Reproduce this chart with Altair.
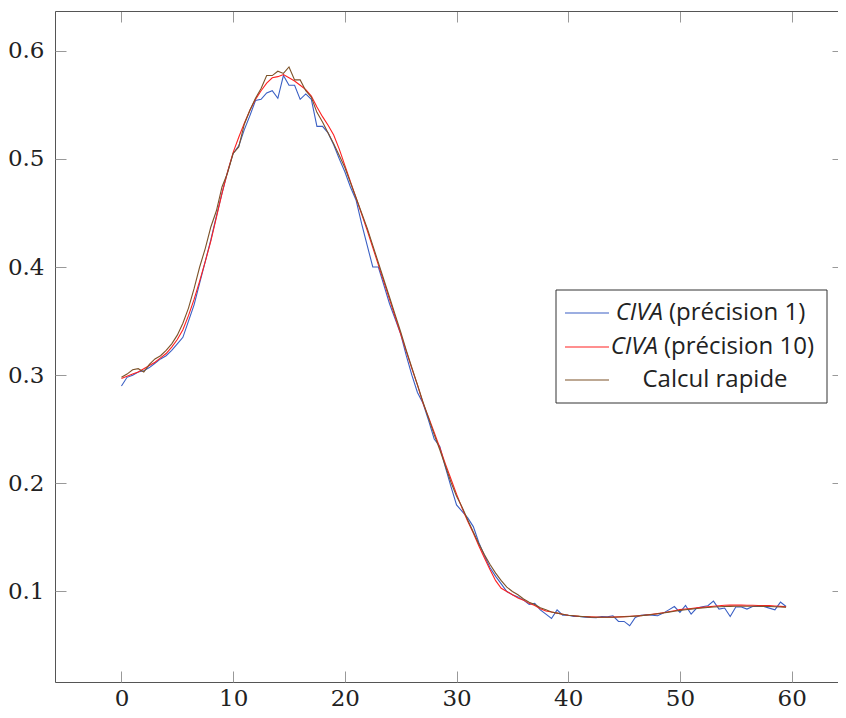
import altair as alt
import pandas as pd

# ---------------- data ----------------
X = [0.0, 0.5, 1.0, 1.5, 2.0, 2.5, 3.0, 3.5, 4.0, 4.5,
     5.0, 5.5, 6.0, 6.5, 7.0, 7.5, 8.0, 8.5, 9.0, 9.5,
     10.0, 10.5, 11.0, 11.5, 12.0, 12.5, 13.0, 13.5, 14.0, 14.5,
     15.0, 15.5, 16.0, 16.5, 17.0, 17.5, 18.0, 18.5, 19.0, 19.5,
     20.0, 20.5, 21.0, 21.5, 22.0, 22.5, 23.0, 23.5, 24.0, 24.5,
     25.0, 25.5, 26.0, 26.5, 27.0, 27.5, 28.0, 28.5, 29.0, 29.5,
     30.0, 30.5, 31.0, 31.5, 32.0, 32.5, 33.0, 33.5, 34.0, 34.5,
     35.0, 35.5, 36.0, 36.5, 37.0, 37.5, 38.0, 38.5, 39.0, 39.5,
     40.0, 40.5, 41.0, 41.5, 42.0, 42.5, 43.0, 43.5, 44.0, 44.5,
     45.0, 45.5, 46.0, 46.5, 47.0, 47.5, 48.0, 48.5, 49.0, 49.5,
     50.0, 50.5, 51.0, 51.5, 52.0, 52.5, 53.0, 53.5, 54.0, 54.5,
     55.0, 55.5, 56.0, 56.5, 57.0, 57.5, 58.0, 58.5, 59.0, 59.5]

CIVA_P1 = [0.290, 0.298, 0.300, 0.303, 0.304, 0.307, 0.311, 0.315, 0.318, 0.323,
           0.329, 0.335, 0.350, 0.365, 0.385, 0.405, 0.425, 0.447, 0.468, 0.488,
           0.505, 0.512, 0.527, 0.540, 0.554, 0.555, 0.561, 0.563, 0.556, 0.577,
           0.568, 0.568, 0.555, 0.560, 0.555, 0.530, 0.530, 0.524, 0.513, 0.500,
           0.488, 0.474, 0.462, 0.440, 0.420, 0.400, 0.400, 0.383, 0.366, 0.352,
           0.338, 0.318, 0.300, 0.284, 0.274, 0.258, 0.241, 0.234, 0.215, 0.197,
           0.180, 0.174, 0.168, 0.160, 0.145, 0.133, 0.122, 0.114, 0.107, 0.100,
           0.097, 0.095, 0.092, 0.088, 0.089, 0.083, 0.079, 0.075, 0.083, 0.078,
           0.078, 0.0770, 0.0768, 0.0763, 0.0760, 0.0758, 0.0768, 0.0765, 0.0775, 0.0723,
           0.0723, 0.0683, 0.0760, 0.0780, 0.0785, 0.0780, 0.0775, 0.0800, 0.0830, 0.0861,
           0.0806, 0.0871, 0.0791, 0.0847, 0.0858, 0.0868, 0.0911, 0.0837, 0.0847, 0.0769,
           0.0856, 0.0856, 0.0837, 0.0861, 0.0861, 0.0861, 0.0846, 0.0831, 0.0902, 0.0861]

CIVA_P10 = [0.297, 0.299, 0.301, 0.303, 0.306, 0.309, 0.312, 0.316, 0.320, 0.326,
            0.333, 0.342, 0.355, 0.370, 0.387, 0.405, 0.424, 0.446, 0.468, 0.488,
            0.506, 0.520, 0.533, 0.545, 0.555, 0.563, 0.570, 0.575, 0.576, 0.578,
            0.575, 0.572, 0.568, 0.564, 0.558, 0.548, 0.539, 0.531, 0.522, 0.509,
            0.494, 0.479, 0.464, 0.449, 0.434, 0.418, 0.402, 0.386, 0.370, 0.354,
            0.338, 0.322, 0.306, 0.291, 0.274, 0.261, 0.247, 0.233, 0.218, 0.204,
            0.190, 0.177, 0.165, 0.154, 0.142, 0.131, 0.120, 0.110, 0.103, 0.100,
            0.097, 0.094, 0.092, 0.089, 0.087, 0.084, 0.082, 0.081, 0.080, 0.079,
            0.0780, 0.0775, 0.0770, 0.0768, 0.0765, 0.0763, 0.0762, 0.0762, 0.0763, 0.0765,
            0.0767, 0.0770, 0.0773, 0.0777, 0.0782, 0.0788, 0.0795, 0.0803, 0.0812, 0.0822,
            0.0832, 0.0838, 0.0843, 0.0848, 0.0853, 0.0858, 0.0863, 0.0868, 0.0872, 0.0874,
            0.0875, 0.0874, 0.0873, 0.0872, 0.0871, 0.0870, 0.0869, 0.0866, 0.0862, 0.0858]

CALCUL_RAPIDE = [0.298, 0.301, 0.305, 0.306, 0.303, 0.310, 0.315, 0.318, 0.323, 0.329,
                 0.337, 0.348, 0.362, 0.380, 0.400, 0.417, 0.437, 0.452, 0.474, 0.487,
                 0.505, 0.511, 0.532, 0.545, 0.556, 0.565, 0.577, 0.577, 0.581, 0.579,
                 0.585, 0.573, 0.573, 0.563, 0.557, 0.543, 0.534, 0.524, 0.514, 0.503,
                 0.492, 0.478, 0.464, 0.450, 0.436, 0.420, 0.404, 0.388, 0.372, 0.356,
                 0.340, 0.323, 0.307, 0.291, 0.275, 0.260, 0.245, 0.231, 0.216, 0.201,
                 0.188, 0.178, 0.166, 0.155, 0.144, 0.134, 0.125, 0.117, 0.110, 0.104,
                 0.100, 0.097, 0.093, 0.090, 0.088, 0.085, 0.083, 0.081, 0.080, 0.079,
                 0.0780, 0.0775, 0.0770, 0.0766, 0.0763, 0.0762, 0.0761, 0.0761, 0.0762, 0.0764,
                 0.0766, 0.0769, 0.0772, 0.0776, 0.0781, 0.0787, 0.0794, 0.0801, 0.0809, 0.0817,
                 0.0825, 0.0831, 0.0837, 0.0842, 0.0847, 0.0852, 0.0856, 0.0859, 0.0861, 0.0862,
                 0.0863, 0.0863, 0.0863, 0.0863, 0.0863, 0.0862, 0.0861, 0.0859, 0.0857, 0.0855]

SERIES = ["CIVA (précision 1)", "CIVA (précision 10)", "Calcul rapide"]
LEGEND_ITALIC = ["CIVA", "CIVA", ""]
LEGEND_REST = ["(précision 1)", "(précision 10)", "Calcul rapide"]
COLORS = ["#3a5fc4", "#ff2020", "#7d5228"]
X_TICKS = [0, 10, 20, 30, 40, 50, 60]
Y_TICKS = [0.1, 0.2, 0.3, 0.4, 0.5, 0.6]

# ---------------- layout ----------------
W, H = 783, 671
XDOM = [-5.95, 64.15]
YDOM = [0.0163, 0.6367]
SERIF = "DejaVu Serif"
SANS = "Open Sans"
FRAME = "#555555"
TICK = "#999999"

xs = alt.Scale(domain=XDOM, nice=False, zero=False)
ys = alt.Scale(domain=YDOM, nice=False, zero=False)

ax_x_labels = alt.Axis(orient="bottom", values=X_TICKS, ticks=False, grid=False, domain=True,
                       domainColor=FRAME, domainWidth=1, labelFont=SERIF, labelFontSize=23,
                       labelColor="#222222", labelPadding=5, labelFlush=False, format="d", title=None)
ax_x_ticks = alt.Axis(orient="bottom", values=X_TICKS, ticks=True, tickSize=11, tickColor=TICK,
                      offset=-11, labels=False, domain=False, grid=False, title=None)
ax_x_top = alt.Axis(orient="top", ticks=False, labels=False, domain=True, domainColor=FRAME,
                    domainWidth=1, grid=False, title=None)
ax_x_top_ticks = alt.Axis(orient="top", values=X_TICKS, ticks=True, tickSize=11, tickColor=TICK,
                          offset=-11, labels=False, domain=False, grid=False, title=None)
ax_y_labels = alt.Axis(orient="left", values=Y_TICKS, ticks=False, grid=False, domain=True,
                       domainColor=FRAME, domainWidth=1, labelFont=SERIF, labelFontSize=23,
                       labelColor="#222222", labelPadding=11, format=".1f", title=None)
ax_y_ticks = alt.Axis(orient="left", values=Y_TICKS, ticks=True, tickSize=11, tickColor=TICK,
                      offset=-11, labels=False, domain=False, grid=False, title=None)
ax_y_right = alt.Axis(orient="right", values=Y_TICKS, ticks=True, tickSize=6, tickColor=TICK,
                      offset=-6, labels=False, domain=False, grid=False, title=None)


def series_df(values, name):
    return pd.DataFrame({"x": X, "y": values, "serie": name})


def line(df, color, xaxis, yaxis, opacity=1.0):
    return alt.Chart(df).mark_line(color=color, strokeWidth=1.1, opacity=opacity).encode(
        x=alt.X("x:Q", scale=xs, axis=xaxis),
        y=alt.Y("y:Q", scale=ys, axis=yaxis),
    )


l_blue = line(series_df(CIVA_P1, SERIES[0]), COLORS[0], ax_x_labels, ax_y_labels)
l_red = line(series_df(CIVA_P10, SERIES[1]), COLORS[1], ax_x_ticks, ax_y_ticks)
l_brown = line(series_df(CALCUL_RAPIDE, SERIES[2]), COLORS[2], ax_x_top, ax_y_right)
l_ghost = line(series_df(CALCUL_RAPIDE, SERIES[2]), COLORS[2], ax_x_top_ticks, None, opacity=0.0)

# ---------------- legend ----------------
one = pd.DataFrame({"k": [0]})
legend_layers = [
    alt.Chart(one).mark_rect(fill="white", stroke="#333333", strokeWidth=1).encode(
        x=alt.value(501), x2=alt.value(772), y=alt.value(279), y2=alt.value(392))
]
ROW_Y = [302, 336, 369]
ITALIC_RIGHT = [608, 603, 0]
REST_LEFT = [614, 609, 0]
for i in range(3):
    legend_layers.append(
        alt.Chart(one).mark_rule(color=COLORS[i], strokeWidth=1.2).encode(
            x=alt.value(510), x2=alt.value(554), y=alt.value(ROW_Y[i])))
    if LEGEND_ITALIC[i]:
        legend_layers.append(
            alt.Chart(one).mark_text(text=LEGEND_ITALIC[i], font=SANS, fontSize=24, fontStyle="italic",
                                     align="right", baseline="middle", color="#222222").encode(
                x=alt.value(ITALIC_RIGHT[i]), y=alt.value(ROW_Y[i])))
        legend_layers.append(
            alt.Chart(one).mark_text(text=LEGEND_REST[i], font=SANS, fontSize=24,
                                     align="left", baseline="middle", color="#222222").encode(
                x=alt.value(REST_LEFT[i]), y=alt.value(ROW_Y[i])))
    else:
        legend_layers.append(
            alt.Chart(one).mark_text(text=LEGEND_REST[i], font=SANS, fontSize=24,
                                     align="center", baseline="middle", color="#222222").encode(
                x=alt.value(660), y=alt.value(ROW_Y[i])))

chart = alt.layer(l_ghost, l_blue, l_red, l_brown, *legend_layers).resolve_axis(
    x="independent", y="independent"
).properties(
    width=W, height=H,
    autosize=alt.AutoSizeParams(type="none"),
    padding={"left": 47, "top": 3, "right": 0, "bottom": 28},
).configure_view(stroke=None).configure(background="white")

chart.save("out.html", embed_options={"renderer": "svg", "actions": False})
